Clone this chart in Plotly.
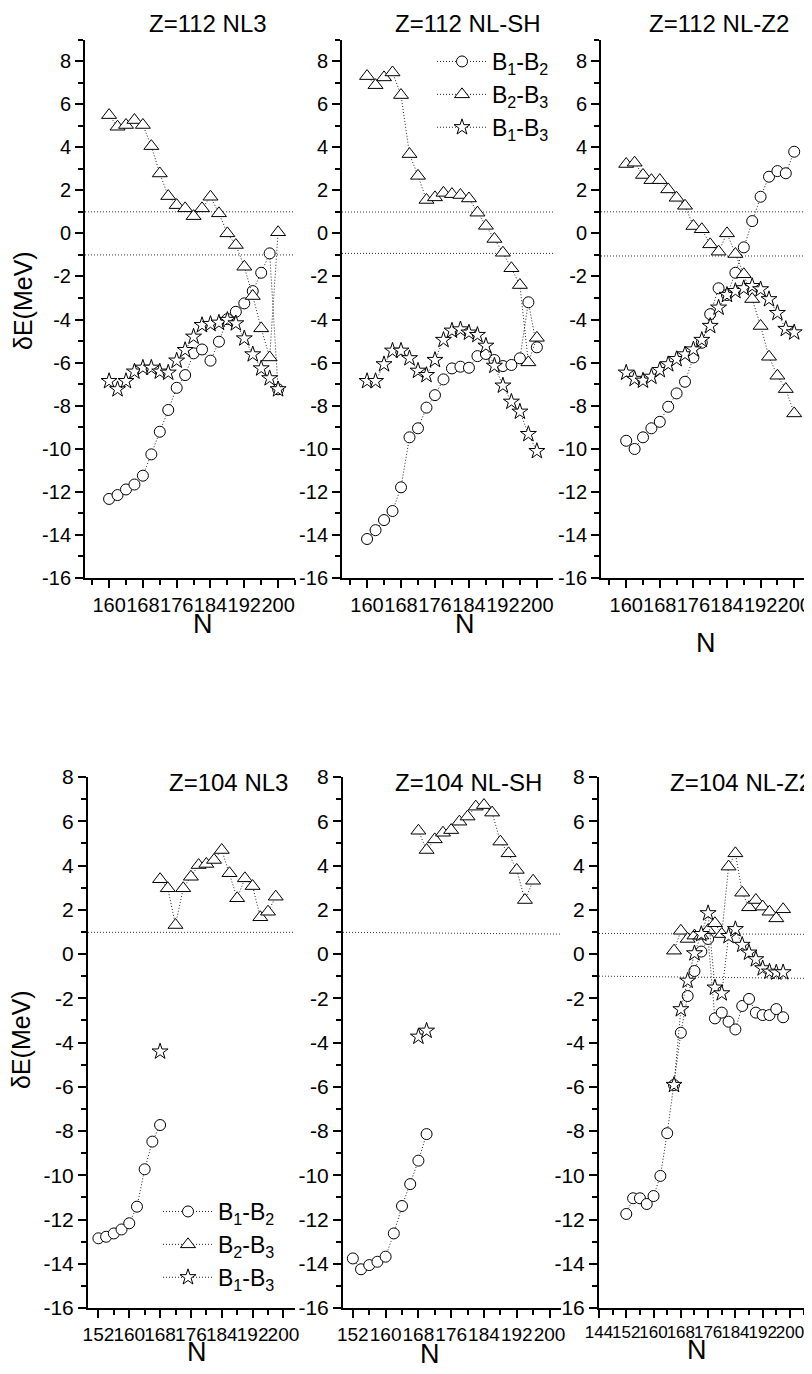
import plotly.graph_objects as go

# ---------------- data ----------------
N_112 = [160, 162, 164, 166, 168, 170, 172, 174, 176, 178, 180,
         182, 184, 186, 188, 190, 192, 194, 196, 198, 200]

# Z=112 NL3
nl3_112_b12 = [-12.33, -12.15, -11.89, -11.66, -11.25, -10.26, -9.21, -8.20, -7.17, -6.58, -5.57,
               -5.39, -5.91, -5.03, -3.98, -3.64, -3.25, -2.68, -1.83, -0.93, -7.24]
nl3_112_b23 = [5.49, 4.95, 5.03, 5.26, 5.03, 4.05, 2.78, 1.73, 1.31, 1.16, 0.80,
               1.16, 1.70, 0.93, 0.00, -0.54, -1.55, -2.91, -4.41, -5.76, 0.05]
nl3_112_b13 = [-6.86, -7.24, -6.86, -6.42, -6.24, -6.24, -6.42, -6.47, -5.91, -5.42, -4.80,
               -4.26, -4.21, -4.15, -4.02, -4.18, -4.88, -5.62, -6.27, -6.73, -7.24]

# Z=112 NL-SH
nlsh_112_b12 = [-14.19, -13.78, -13.31, -12.89, -11.79, -9.47, -9.05, -8.09, -7.51, -6.78, -6.27,
                -6.19, -6.24, -5.70, -5.60, -5.88, -6.16, -6.11, -5.80, -3.20, -5.29]
nlsh_112_b23 = [7.30, 6.88, 7.24, 7.47, 6.42, 3.68, 2.67, 1.55, 1.67, 1.88, 1.82,
                1.78, 1.62, 0.96, 0.35, -0.26, -0.90, -1.62, -2.40, -5.99, -4.85]
nlsh_112_b13 = [-6.86, -6.86, -6.08, -5.45, -5.45, -5.80, -6.38, -6.58, -5.88, -4.95, -4.52,
                -4.46, -4.61, -4.72, -5.22, -6.15, -7.07, -7.82, -8.28, -9.32, -10.11]

# Z=112 NL-Z2
nlz2_112_b12 = [-9.63, -10.01, -9.47, -9.05, -8.75, -8.05, -7.43, -6.89, -5.76, -5.08, -3.75,
                -2.55, -2.86, -1.83, -0.65, 0.57, 1.70, 2.63, 2.89, 2.79, 3.79]
nlz2_112_b23 = [3.22, 3.28, 2.71, 2.47, 2.47, 2.04, 1.65, 1.28, 0.34, 0.19, -0.51,
                -0.85, 0.00, -0.96, -1.90, -3.05, -4.30, -5.73, -6.61, -7.23, -8.36]
nlz2_112_b13 = [-6.47, -6.76, -6.84, -6.66, -6.35, -6.08, -5.84, -5.62, -5.39, -4.95, -4.30,
                -3.45, -2.86, -2.68, -2.55, -2.45, -2.60, -3.06, -3.70, -4.44, -4.60]

# Z=104 NL3
nl3_104_N12 = [152, 154, 156, 158, 160, 162, 164, 166, 168]
nl3_104_b12 = [-12.85, -12.78, -12.63, -12.45, -12.17, -11.42, -9.73, -8.48, -7.73]
nl3_104_N23 = [168, 170, 172, 174, 176, 178, 180, 182, 184, 186, 188, 190, 192, 194, 196, 198]
nl3_104_b23 = [3.38, 2.97, 1.31, 2.97, 3.49, 4.02, 4.07, 4.25, 4.70, 3.65, 2.52, 3.42, 3.07, 1.66, 1.91, 2.59]
nl3_104_N13 = [168]
nl3_104_b13 = [-4.41]

# Z=104 NL-SH
nlsh_104_N12 = [152, 154, 156, 158, 160, 162, 164, 166, 168, 170]
nlsh_104_b12 = [-13.76, -14.25, -14.06, -13.91, -13.68, -12.63, -11.39, -10.40, -9.34, -8.14]
nlsh_104_N23 = [168, 170, 172, 174, 176, 178, 180, 182, 184, 186, 188, 190, 192, 194, 196]
nlsh_104_b23 = [5.57, 4.70, 5.18, 5.48, 5.60, 5.98, 6.21, 6.66, 6.73, 6.39, 5.08, 4.55, 3.80, 2.44, 3.31]
nlsh_104_N13 = [168, 170]
nlsh_104_b13 = [-3.74, -3.47]

# Z=104 NL-Z2
nlz2_104_N12 = [152, 154, 156, 158, 160, 162, 164, 166, 168, 170, 172, 174,
                176, 178, 180, 182, 184, 186, 188, 190, 192, 194, 196, 198]
nlz2_104_b12 = [-11.75, -11.04, -11.04, -11.30, -10.94, -10.03, -8.10, -5.92, -3.56, -1.90, -0.77, 0.11,
                0.68, -2.91, -2.65, -3.06, -3.41, -2.35, -2.03, -2.65, -2.76, -2.76, -2.49, -2.86]
nlz2_104_N23 = [166, 168, 170, 172, 174, 176, 178, 180, 182, 184, 186, 188, 190, 192, 194, 196, 198]
nlz2_104_b23 = [0.15, 1.05, 0.68, 0.83, 0.83, 1.08, 1.39, 0.90, 3.95, 4.55, 2.77, 2.11, 2.44, 2.14, 1.91, 1.61, 2.02]
nlz2_104_N13 = [166, 168, 170, 172, 174, 176, 178, 180, 182, 184, 186, 188, 190, 192, 194, 196, 198]
nlz2_104_b13 = [-5.92, -2.50, -1.21, 0.03, 0.90, 1.84, -1.52, -1.78, 0.81, 1.12, 0.41, 0.06, -0.24, -0.65, -0.80, -0.84, -0.83]

# horizontal reference lines (left value, right value)
ref_nl3_112 = [(1.0, 1.0), (-1.0, -1.0)]
ref_nlsh_112 = [(0.99, 0.99), (-0.93, -0.93)]
ref_nlz2_112 = [(1.0, 1.0), (-1.05, -1.05)]
ref_nl3_104 = [(0.98, 0.98)]
ref_nlsh_104 = [(0.98, 0.90)]
ref_nlz2_104 = [(0.93, 0.89), (-1.0, -1.1)]

titles = ["Z=112 NL3", "Z=112 NL-SH", "Z=112 NL-Z2", "Z=104 NL3", "Z=104 NL-SH", "Z=104 NL-Z2"]
series_names = ["B<sub>1</sub>-B<sub>2</sub>", "B<sub>2</sub>-B<sub>3</sub>", "B<sub>1</sub>-B<sub>3</sub>"]

xt_top = [160, 168, 176, 184, 192, 200]
xt_top_minor = [156, 164, 172, 180, 188, 196, 204]
xt_bot = [152, 160, 168, 176, 184, 192, 200]
xt_bot_minor = [148, 156, 164, 172, 180, 188, 196, 204]
xt_z2 = [144, 152, 160, 168, 176, 184, 192, 200]
xt_z2_minor = [148, 156, 164, 172, 180, 188, 196, 204]
yt = [-16, -14, -12, -10, -8, -6, -4, -2, 0, 2, 4, 6, 8]
yt_minor = [-15, -13, -11, -9, -7, -5, -3, -1, 1, 3, 5, 7, 9]

# ---------------- layout geometry (screen pixels of the reference) ----------------
OFF = 8                      # page body margin offset
W, H = 812 - OFF, 1374 - OFF
FONT = "Liberation Sans, Arial, sans-serif"


def fx(px):
    return (px - OFF) / W


def fy(py):
    return 1 - (py - OFF) / H


panels = [
    dict(x=(85, 295), y=(39.5, 578), xr=[154.3, 204], yr=[-16, 9], xt=xt_top, xm=xt_top_minor, xf=20, yf=20,
         s=[(N_112, nl3_112_b12), (N_112, nl3_112_b23), (N_112, nl3_112_b13)], ref=ref_nl3_112,
         title=(147, 8), tanchor="top", nlab=(203, 624), leg=None),
    dict(x=(342, 553), y=(39.5, 578), xr=[154.1, 203.8], yr=[-16, 9], xt=xt_top, xm=xt_top_minor, xf=20, yf=20,
         s=[(N_112, nlsh_112_b12), (N_112, nlsh_112_b23), (N_112, nlsh_112_b13)], ref=ref_nlsh_112,
         title=(393, 8), tanchor="top", nlab=(465, 624), leg="legend"),
    dict(x=(601, 811), y=(39.5, 578), xr=[154.0, 204], yr=[-16, 9], xt=xt_top, xm=xt_top_minor, xf=20, yf=20,
         s=[(N_112, nlz2_112_b12), (N_112, nlz2_112_b23), (N_112, nlz2_112_b13)], ref=ref_nlz2_112,
         title=(647, 8), tanchor="top", nlab=(706, 643), leg=None),
    dict(x=(88, 295), y=(777, 1308), xr=[149.3, 203], yr=[-16, 8], xt=xt_bot, xm=xt_bot_minor, xf=19, yf=21,
         s=[(nl3_104_N12, nl3_104_b12), (nl3_104_N23, nl3_104_b23), (nl3_104_N13, nl3_104_b13)], ref=ref_nl3_104,
         title=(167, 782), tanchor="middle", nlab=(197, 1352), leg="legend2"),
    dict(x=(343, 561), y=(777, 1308), xr=[149.6, 202.8], yr=[-16, 8], xt=xt_bot, xm=xt_bot_minor, xf=19, yf=21,
         s=[(nlsh_104_N12, nlsh_104_b12), (nlsh_104_N23, nlsh_104_b23), (nlsh_104_N13, nlsh_104_b13)], ref=ref_nlsh_104,
         title=(393, 782), tanchor="middle", nlab=(430, 1354), leg=None),
    dict(x=(599, 807), y=(777, 1308), xr=[144, 205], yr=[-16, 8], xt=xt_z2, xm=xt_z2_minor, xf=17, yf=21,
         s=[(nlz2_104_N12, nlz2_104_b12), (nlz2_104_N23, nlz2_104_b23), (nlz2_104_N13, nlz2_104_b13)], ref=ref_nlz2_104,
         title=(668, 782), tanchor="middle", nlab=(697, 1350), leg=None),
]

symbols = [("circle", 11), ("triangle-up", 13), ("star", 12)]
DOT = "1px,2px"

fig = go.Figure()
annotations = []
shapes = []
layout = {}

for i, p in enumerate(panels):
    k = "" if i == 0 else str(i + 1)
    xa, ya = "x" + k, "y" + k
    ymax = p["yr"][1]
    ytv = [v for v in yt if v <= ymax]
    ymv = [v for v in yt_minor if v <= ymax]
    layout["xaxis" + k] = dict(
        domain=[fx(p["x"][0]), min(1.0, fx(p["x"][1]))], range=p["xr"], anchor=ya, automargin=False,
        showline=True, linewidth=2, linecolor="black", mirror=False,
        ticks="outside", ticklen=8, tickwidth=1.5, tickcolor="black",
        tickmode="array", tickvals=p["xt"], ticktext=[str(v) for v in p["xt"]],
        tickangle=0, tickfont=dict(size=p["xf"], family=FONT, color="black"),
        minor=dict(tickmode="array", tickvals=p["xm"], ticks="outside", ticklen=5, tickwidth=1.5,
                   tickcolor="black", showgrid=False),
        showgrid=False, zeroline=False, fixedrange=True,
    )
    layout["yaxis" + k] = dict(
        domain=[fy(p["y"][1]), fy(p["y"][0])], range=p["yr"], anchor=xa, automargin=False,
        showline=True, linewidth=2, linecolor="black", mirror=False,
        ticks="outside", ticklen=8, tickwidth=1.5, tickcolor="black",
        tickmode="array", tickvals=ytv, ticktext=[str(v) for v in ytv],
        tickfont=dict(size=p["yf"], family=FONT, color="black"),
        minor=dict(tickmode="array", tickvals=ymv, ticks="outside", ticklen=5, tickwidth=1.5,
                   tickcolor="black", showgrid=False),
        showgrid=False, zeroline=False, fixedrange=True,
    )
    for j, (xs, ys) in enumerate(p["s"]):
        sym, sz = symbols[j]
        tr = dict(
            x=xs, y=ys, mode="lines+markers", name=series_names[j],
            line=dict(color="#222222", width=1, dash=DOT),
            marker=dict(symbol=sym, size=sz, color="white", line=dict(color="black", width=1)),
            xaxis=xa, yaxis=ya, cliponaxis=False,
        )
        if p["leg"]:
            tr["legend"] = p["leg"]
            tr["showlegend"] = True
        else:
            tr["showlegend"] = False
        fig.add_trace(go.Scatter(**tr))
    for (y0, y1) in p["ref"]:
        shapes.append(dict(type="line", xref=xa + " domain", yref=ya, x0=0, x1=1, y0=y0, y1=y1,
                           line=dict(color="#333333", width=1, dash=DOT), layer="below"))
    tx, ty = p["title"]
    annotations.append(dict(text=titles[i], x=fx(tx), y=fy(ty), xref="paper", yref="paper",
                            xanchor="left", yanchor=p["tanchor"], showarrow=False,
                            font=dict(size=24, family=FONT, color="black")))
    nx, ny = p["nlab"]
    annotations.append(dict(text="N", x=fx(nx), y=fy(ny), xref="paper", yref="paper",
                            xanchor="center", yanchor="middle", showarrow=False,
                            font=dict(size=27, family=FONT, color="black")))

for (yx, yy) in [(23, 301), (21, 1040)]:
    annotations.append(dict(text="δE(MeV)", x=fx(yx), y=fy(yy), xref="paper", yref="paper",
                            xanchor="center", yanchor="middle", showarrow=False, textangle=-90,
                            font=dict(size=25, family=FONT, color="black")))

leg_common = dict(xanchor="left", yanchor="top", bgcolor="rgba(0,0,0,0)", borderwidth=0,
                  font=dict(size=23, family=FONT, color="black"), itemwidth=50, tracegroupgap=0)
layout["legend"] = dict(x=fx(432), y=fy(40), **leg_common)
layout["legend2"] = dict(x=fx(158), y=fy(1190), **leg_common)

fig.update_layout(
    width=W, height=H, autosize=False,
    margin=dict(l=0, r=0, t=0, b=0, autoexpand=False),
    paper_bgcolor="white", plot_bgcolor="white",
    font=dict(family=FONT, color="black"),
    annotations=annotations, shapes=shapes,
    **layout,
)

fig.write_html("out.html")
